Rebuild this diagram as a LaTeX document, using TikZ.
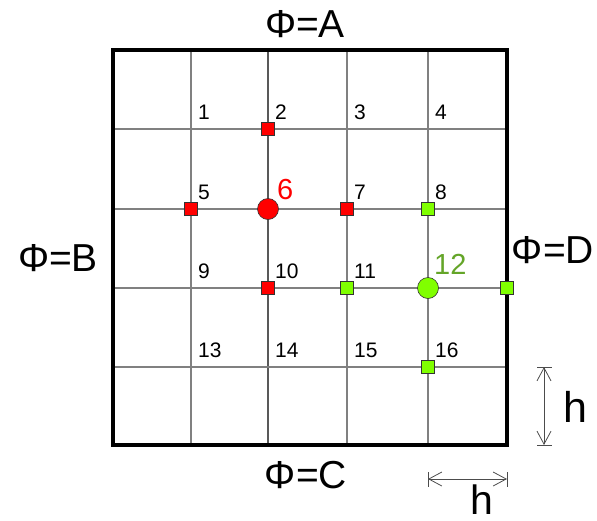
\documentclass[tikz,border=0pt]{standalone}
\usepackage{fontspec}
\setmainfont{Liberation Sans}
\usetikzlibrary{arrows.meta}
\definecolor{limeg}{RGB}{128,255,0}
\definecolor{dgreen}{RGB}{100,165,40}
\begin{document}
\begin{tikzpicture}[x=1pt,y=-1pt,
  gridline/.style={draw=gray, line width=1.1pt},
  sq/.style={rectangle, draw=black!80, line width=0.6pt, minimum size=13pt, inner sep=0pt},
  rsq/.style={sq, fill=red},
  gsq/.style={sq, fill=limeg},
  dot/.style={circle, draw=black!80, line width=0.6pt, minimum size=21pt, inner sep=0pt},
  num/.style={font=\fontsize{21}{21}\selectfont, anchor=south west, inner sep=0pt},
  bignum/.style={font=\fontsize{29}{29}\selectfont, anchor=south west, inner sep=0pt},
  big/.style={font=\fontsize{39}{39}\selectfont, inner sep=0pt},
  hlab/.style={font=\fontsize{43}{43}\selectfont, inner sep=0pt},
  tick/.style={draw=black!70, line width=0.8pt},
  dim/.style={draw=black!70, line width=0.8pt, {Straight Barb[length=13pt,width=14pt]}-{Straight Barb[length=13pt,width=14pt]}}
]
\useasboundingbox (0,0) rectangle (597,520);
% grid lines
\foreach \x in {191,347,428} \draw[gridline] (\x,50) -- (\x,445);
\draw[gridline, draw=black!65] (268,50) -- (268,445);
\foreach \y in {129,209,288,367} \draw[gridline] (113,\y) -- (507,\y);
% border
\draw[line width=3.5pt] (113,50) rectangle (507,445);
% cell numbers
\foreach \r/\y in {0/129,1/209,2/288,3/367}
  \foreach \c/\x in {1/191,2/268,3/347,4/428}{
    \pgfmathtruncatemacro{\k}{4*\r+\c}
    \ifnum\k=6\relax\else\ifnum\k=12\relax\else
      \node[num] (n\k) at (\x+7,\y-9) {\k};
    \fi\fi
  }
\node[bignum, text=red] (n6) at (277,200) {6};
\node[bignum, text=dgreen] (n12) at (434,275) {12};
% red stencil
\node[rsq] (r2) at (268,129) {};
\node[rsq] (r5) at (191,209) {};
\node[rsq] (r7) at (347,209) {};
\node[rsq] (r10) at (268,288) {};
\node[dot, fill=red] (c6) at (268,209) {};
% green stencil
\node[gsq] (g8) at (428,209) {};
\node[gsq] (g11) at (347,288) {};
\node[gsq] (g16) at (428,367) {};
\node[gsq] (gD) at (507,288) {};
\node[dot, fill=limeg] (c12) at (428,288) {};
% boundary labels
\node[big] (lA) at (305,24) {Φ=A};
\node[big] (lB) at (58,258) {Φ=B};
\node[big] (lD) at (553,250) {Φ=D};
\node[big] (lC) at (306,475) {Φ=C};
% dimension h vertical
\coordinate (v1) at (544,367);
\coordinate (v2) at (544,445);
\draw[tick] (537,367) -- (552,367);
\draw[tick] (537,445) -- (552,445);
\draw[dim] (v1) -- (v2);
\node[hlab] (hv) at (575,407) {h};
% dimension h horizontal
\coordinate (w1) at (428,479);
\coordinate (w2) at (507,479);
\draw[tick] (428,472) -- (428,487);
\draw[tick] (507,472) -- (507,487);
\draw[dim] (w1) -- (w2);
\node[hlab] (hh) at (482,500) {\fontsize{41}{41}\selectfont h};
\end{tikzpicture}
\end{document}
